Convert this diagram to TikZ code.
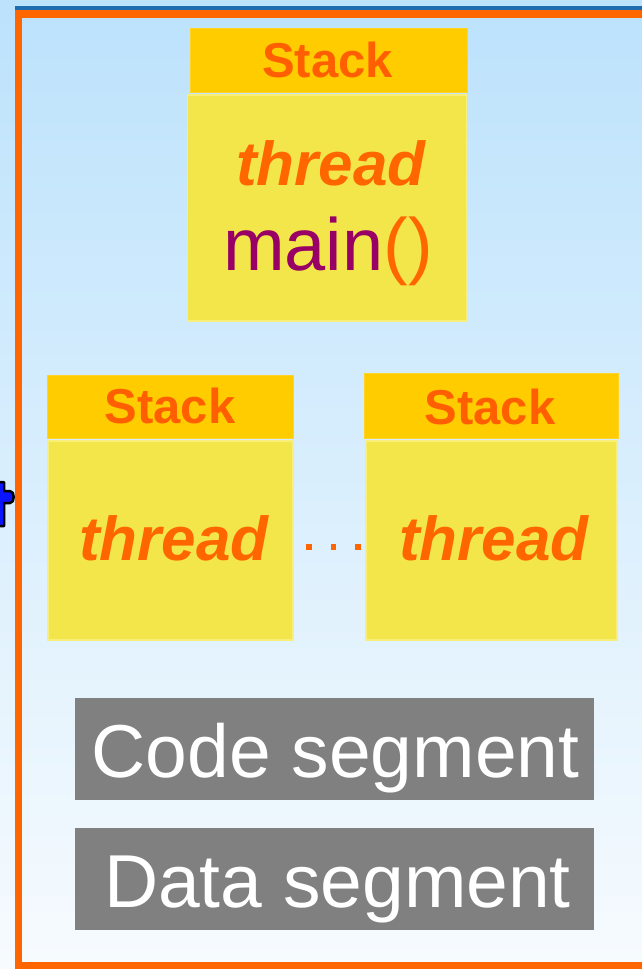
\documentclass[tikz,border=0pt]{standalone}
\usepackage{fontspec}
\setmainfont{Liberation Sans}
\definecolor{bgtop}{HTML}{BCE2FC}
\definecolor{bgbot}{HTML}{F7FBFE}
\definecolor{frameorange}{HTML}{FF6600}
\definecolor{frameblue}{HTML}{1F6CAE}
\definecolor{hdrfill}{HTML}{FFCC00}
\definecolor{bodyfill}{HTML}{F3E64A}
\definecolor{bodyedge}{HTML}{F8EF7A}
\definecolor{stackorange}{HTML}{FF5F00}
\definecolor{threadorange}{HTML}{FF6600}
\definecolor{mainpurple}{HTML}{990066}
\definecolor{seggray}{HTML}{808080}
\definecolor{glyphblue}{HTML}{0A14FF}
\newcommand{\fsz}[1]{\fontsize{#1}{#1}\selectfont}
\begin{document}
\begin{tikzpicture}[x=1pt,y=-1pt,
  hdr/.style={fill=hdrfill, draw=hdrfill!85!white, line width=0.8pt, inner sep=0pt},
  stackbody/.style={fill=bodyfill, draw=bodyedge, line width=1.5pt, inner sep=0pt},
  hdrtext/.style={anchor=base, inner sep=0pt, text=stackorange, font=\bfseries\fsz{49}},
  threadtext/.style={anchor=base, inner sep=0pt, text=threadorange, font=\bfseries\itshape\fsz{62}},
  seg/.style={fill=seggray, inner sep=0pt},
  segtext/.style={anchor=base, inner sep=0pt, text=white, font=\fsz{75}},
  dot/.style={fill=threadorange, minimum size=5.5pt, inner sep=0pt}
]
\useasboundingbox (0,0) rectangle (642,969);
% background
\shade[top color=bgtop, bottom color=bgbot] (0,0) rectangle (642,969);

% clipped blue character at the left margin
\draw[glyphblue, fill=glyphblue, draw=black, line width=2.5pt, line join=round]
  (-4,482) -- (4,482) -- (4,491) -- (10,491)
  .. controls (15,491) and (15,503) .. (10,503)
  -- (4,503) -- (4,526) -- (-4,526) -- cycle;
\fill[glyphblue] (-4,484) rectangle (2.5,524);
\fill[glyphblue] (-4,493) rectangle (10,501);

% process frame
\fill[frameblue] (15,6) rectangle (650,9.5);
\draw[frameorange, line width=7.5pt] (650,14) -- (18.5,14) -- (18.5,965.5) -- (650,965.5);

% main thread stack
\node[hdr, minimum width=277pt, minimum height=64pt] (hdA) at (328.5,60) {};
\node[stackbody, minimum width=279pt, minimum height=226pt] (bodyA) at (327,208) {};
\node[hdrtext] (lblA) at (327.5,77) {Stack};
\node[threadtext] (thA) at (331,185) {thread};
\node[anchor=base, inner sep=0pt, font=\fsz{74}] (mainA) at (328,270)
  {\textcolor{mainpurple}{main}\textcolor{threadorange}{()}};

% left thread stack
\node[hdr, minimum width=246pt, minimum height=63pt] (hdB) at (170,406.5) {};
\node[stackbody, minimum width=245pt, minimum height=199pt] (bodyB) at (170.5,540.5) {};
\node[hdrtext] (lblB) at (170,423) {Stack};
\node[threadtext] (thB) at (174,560) {thread};

% right thread stack
\node[hdr, minimum width=254pt, minimum height=65pt] (hdC) at (491,405.5) {};
\node[stackbody, minimum width=251pt, minimum height=199pt] (bodyC) at (491.5,540.5) {};
\node[hdrtext] (lblC) at (490,424) {Stack};
\node[threadtext] (thC) at (494,560) {thread};

% ellipsis between the thread stacks
\node[dot] (d1) at (309,547) {};
\node[dot] (d2) at (333.5,547) {};
\node[dot] (d3) at (358,547) {};

% shared segments
\node[seg, minimum width=519pt, minimum height=102pt] (code) at (334.5,749) {};
\node[segtext] (codeT) at (335.5,777) {Code segment};
\node[seg, minimum width=519pt, minimum height=102pt] (data) at (334.5,879) {};
\node[segtext] (dataT) at (337.5,907) {Data segment};
\end{tikzpicture}
\end{document}
